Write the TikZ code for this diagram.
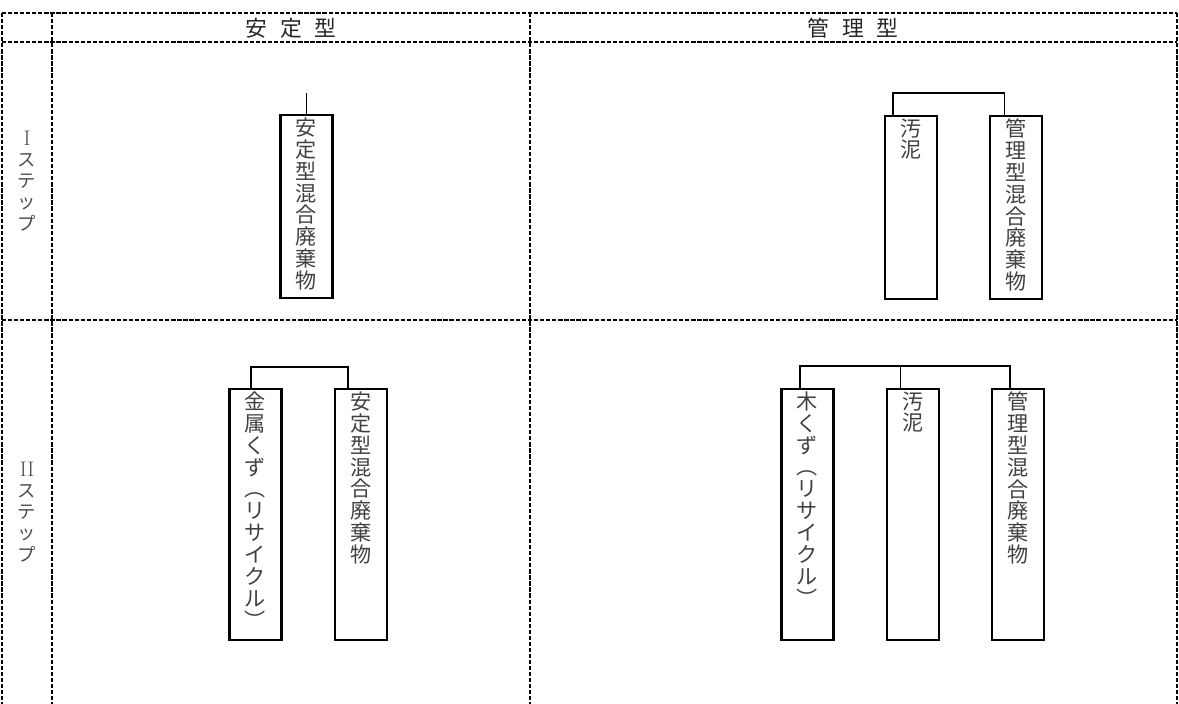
\documentclass[tikz,border=0pt]{standalone}
\usepackage{fontspec}
\newfontfamily\jp{Noto Sans CJK JP}
\usetikzlibrary{positioning}
\newcommand{\tatebox}[2]{\parbox[t][#1][t]{1.3cm}{\centering #2}}

\begin{document}
\begin{tikzpicture}[x=0.025cm,y=-0.025cm,
		grid/.style={dash pattern=on 3pt off 1.3pt,line width=1.5pt},
		bin/.style={draw,line width=1.5pt,inner xsep=0pt,inner ysep=0.06cm,anchor=north,
			font=\jp\fontsize{15pt}{15.6pt}\selectfont,text=black!75},
		link/.style={line width=1.2pt},
		head/.style={font=\jp\fontsize{15.5pt}{18pt}\selectfont,text=black!85},
		stage/.style={font=\jp\fontsize{13pt}{15pt}\selectfont,text=black!70,align=center},
		node distance=1.275cm]
	\useasboundingbox (0,0) rectangle (1179,704);

	% table
	\draw[grid] (2,13) -- (1177,13);
	\draw[grid] (2,42) -- (1177,42);
	\draw[grid] (2,320) -- (1177,320);
	\foreach \x in {2,52,530,1177}
		\draw[grid] (\x,13) -- (\x,704);

	\node[head] (hA) at (291,28) {安\hspace{0.6em}定\hspace{0.6em}型};
	\node[head] (hM) at (853,28) {管\hspace{0.6em}理\hspace{0.6em}型};
	\node[stage] (s1) at (27,181) {{\rmfamily\fontsize{15pt}{15pt}\selectfont I}\\ス\\テ\\ッ\\プ};
	\node[stage] (s2) at (27,512) {{\rmfamily\fontsize{15pt}{15pt}\selectfont II}\\ス\\テ\\ッ\\プ};

	% step I
	\node[bin] (a1) at (306.5,114) {\tatebox{4.45cm}{安\\定\\型\\混\\合\\廃\\棄\\物}};
	\node[bin] (sl1) at (911,115) {\tatebox{4.45cm}{汚\\泥}};
	\node[bin,right=of sl1] (mx1) {\tatebox{4.45cm}{管\\理\\型\\混\\合\\廃\\棄\\物}};

	\draw[link] (a1.north) -- ++(0,-21);
	\draw[link] ([xshift=-0.45cm]sl1.north) -- ++(0,-22) -| ([xshift=-0.29cm]mx1.north);

	% step II
	\node[bin] (mt) at (255.5,388) {\tatebox{6.15cm}{金\\属\\く\\ず\\︵\\リ\\サ\\イ\\ク\\ル\\︶}};
	\node[bin,right=of mt] (st2) {\tatebox{6.15cm}{安\\定\\型\\混\\合\\廃\\棄\\物}};
	\node[bin] (wd) at (807.5,388) {\tatebox{6.15cm}{木\\く\\ず\\︵\\リ\\サ\\イ\\ク\\ル\\︶}};
	\node[bin,right=of wd] (sl2) {\tatebox{6.15cm}{汚\\泥}};
	\node[bin,right=of sl2] (mx2) {\tatebox{6.15cm}{管\\理\\型\\混\\合\\廃\\棄\\物}};

	\draw[link] ([xshift=-0.11cm]mt.north) -- ++(0,-21) -| ([xshift=-0.31cm]st2.north);
	\draw[link] ([xshift=-0.19cm]wd.north) -- ++(0,-22) -| ([xshift=-0.19cm]mx2.north);
	\draw[link] ([xshift=-0.3cm]sl2.north) -- ++(0,-22);
\end{tikzpicture}
\end{document}
